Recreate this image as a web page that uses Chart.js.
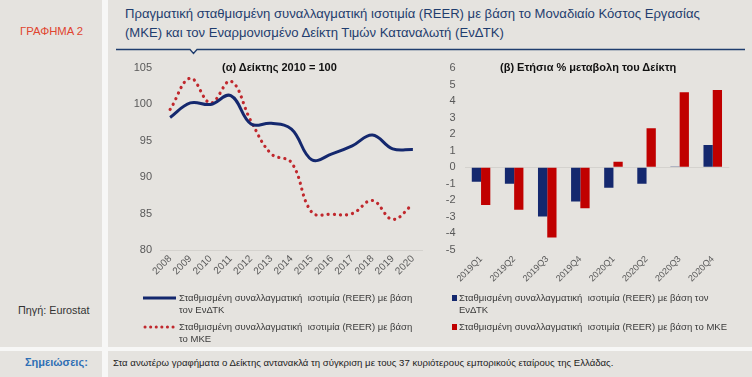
<!DOCTYPE html>
<html><head><meta charset="utf-8">
<script src="https://cdn.jsdelivr.net/npm/chart.js@4.4.1/dist/chart.umd.min.js"></script>
<style>
html,body{margin:0;padding:0;background:#f7f7f6;}
body{width:752px;height:377px;position:relative;overflow:hidden;font-family:"Liberation Sans",Arial,sans-serif;}
.p{position:absolute;background:#e5e3df;}
.t{position:absolute;white-space:nowrap;}
canvas{position:absolute;}
.lg{position:absolute;font-size:9.5px;line-height:12px;color:#3a3a3a;white-space:nowrap;}
</style></head><body>
<div class="p" style="left:0;top:0;width:102px;height:347px"></div>
<div class="p" style="left:108px;top:0;width:644px;height:347px"></div>
<div class="p" style="left:0;top:351px;width:102px;height:26px"></div>
<div class="p" style="left:108px;top:351px;width:644px;height:26px"></div>

<div class="t" style="left:20px;top:25px;font-size:11.3px;color:#e0452f">ΓΡΑΦΗΜΑ 2</div>
<div class="t" style="left:125px;top:4px;font-size:13.1px;line-height:19px;color:#1f3d6e">Πραγματική σταθμισμένη συναλλαγματική ισοτιμία (REER) με βάση το Μοναδιαίο Κόστος Εργασίας<br>(ΜΚΕ) και τον Εναρμονισμένο Δείκτη Τιμών Καταναλωτή (ΕνΔΤΚ)</div>
<svg style="position:absolute;left:0;top:0" width="752" height="60"><polyline points="116,49.5 190,49.5 193.5,53.5 197,49.5 745,49.5" fill="none" stroke="#1f3d6e" stroke-width="1.3"/></svg>

<div class="t" style="left:18px;top:304px;font-size:10.8px;color:#333">Πηγή: Eurostat</div>
<div class="t" style="left:25px;top:356px;font-size:11px;font-weight:bold;color:#2f6fb5">Σημειώσεις:</div>
<div class="t" style="left:113px;top:357px;font-size:9.6px;color:#222">Στα ανωτέρω γραφήματα ο Δείκτης αντανακλά τη σύγκριση με τους 37 κυριότερους εμπορικούς εταίρους της Ελλάδας.</div>

<canvas id="c1" width="330" height="240" style="left:110px;top:50px;width:330px;height:240px"></canvas>
<canvas id="c2" width="312" height="240" style="left:440px;top:50px;width:312px;height:240px"></canvas>

<div class="t" style="left:222px;top:61px;font-size:11px;font-weight:bold;color:#111">(α) Δείκτης 2010 = 100</div>
<div class="t" style="left:500px;top:61px;font-size:11px;font-weight:bold;color:#111">(β) Ετήσια % μεταβολη του Δείκτη</div>

<svg style="position:absolute;left:0;top:280px" width="752" height="70">
<line x1="143" y1="18" x2="176" y2="18" stroke="#14286e" stroke-width="3"/>
<line x1="145" y1="47" x2="176" y2="47" stroke="#c0282d" stroke-width="3" stroke-linecap="round" stroke-dasharray="0.1 5.5"/>
<rect x="452" y="15" width="5" height="6" fill="#14286e"/>
<rect x="452" y="44" width="5" height="6" fill="#c00000"/>
</svg>
<div class="lg" style="left:179px;top:292px">Σταθμισμένη συναλλαγματική&nbsp; ισοτιμία (REER) με βάση<br>τον ΕνΔΤΚ</div>
<div class="lg" style="left:179px;top:321px">Σταθμισμένη συναλλαγματική&nbsp; ισοτιμία (REER) με βάση<br>το ΜΚΕ</div>
<div class="lg" style="left:459px;top:292px">Σταθμισμένη συναλλαγματική&nbsp; ισοτιμία (REER) με βάση τον<br>ΕνΔΤΚ</div>
<div class="lg" style="left:459px;top:321px">Σταθμισμένη συναλλαγματική&nbsp; ισοτιμία (REER) με βάση το ΜΚΕ</div>

<script>
const years = ['2008','2009','2010','2011','2012','2013','2014','2015','2016','2017','2018','2019','2020'];
const reerHicp = [98.2, 100.2, 100.0, 101.2, 97.3, 97.4, 96.6, 92.4, 93.2, 94.3, 95.8, 93.9, 93.8];
const reerUlc = [99.3, 103.6, 100.2, 103.2, 97.7, 93.2, 92.0, 85.2, 84.9, 85.0, 86.8, 84.2, 86.3];
const quarters = ['2019Q1','2019Q2','2019Q3','2019Q4','2020Q1','2020Q2','2020Q3','2020Q4'];
const chgHicp = [-0.87, -1.0, -2.98, -2.08, -1.24, -1.0, 0.05, 1.35];
const chgUlc = [-2.28, -2.58, -4.25, -2.48, 0.34, 2.36, 4.55, 4.68];

const tickFont = {family:'"Liberation Sans", Arial, sans-serif', size:11};
const gray = '#595959';

new Chart(document.getElementById('c1'), {
  type:'line',
  data:{labels:years, datasets:[
    {data:reerHicp, borderColor:'#14286e', borderWidth:3, tension:0.4, pointRadius:0, fill:false},
    {data:reerUlc, borderColor:'#c0282d', borderWidth:3.2, tension:0.4, pointRadius:0, fill:false, borderCapStyle:'round', borderDash:[0.1,6]}
  ]},
  options:{
    responsive:false, animation:false, devicePixelRatio:1,
    layout:{padding:{left:0,right:17,top:18,bottom:0}},
    plugins:{legend:{display:false}, tooltip:{enabled:false}},
    scales:{
      x:{offset:true, grid:{display:false, drawTicks:false}, border:{display:false},
         ticks:{color:gray, font:{family:tickFont.family,size:10}, minRotation:45, maxRotation:45, padding:3, autoSkip:false},
         afterFit:s=>{s.height=40;}},
      y:{min:80, max:105, border:{display:false},
         grid:{drawTicks:false, color:c=>c.tick && c.tick.value===80 ? '#d4d2ce':'rgba(0,0,0,0)', lineWidth:1},
         ticks:{stepSize:5, color:gray, font:tickFont, padding:8},
         afterFit:s=>{s.width=50;}}
    }
  }
});

new Chart(document.getElementById('c2'), {
  type:'bar',
  data:{labels:quarters, datasets:[
    {data:chgHicp, backgroundColor:'#14286e', categoryPercentage:0.56, barPercentage:1.0},
    {data:chgUlc, backgroundColor:'#c00000', categoryPercentage:0.56, barPercentage:1.0}
  ]},
  options:{
    responsive:false, animation:false, devicePixelRatio:1,
    layout:{padding:{left:0,right:22.7,top:18.3,bottom:0}},
    plugins:{legend:{display:false}, tooltip:{enabled:false}},
    scales:{
      x:{grid:{display:false, drawTicks:false}, border:{display:false},
         ticks:{color:gray, font:{family:tickFont.family,size:9}, minRotation:45, maxRotation:45, padding:4, autoSkip:false},
         afterFit:s=>{s.height=40.2;}},
      y:{min:-5, max:6, border:{display:false},
         grid:{drawTicks:false, color:c=>c.tick && c.tick.value===0 ? '#d4d2ce':'rgba(0,0,0,0)', lineWidth:1},
         ticks:{stepSize:1, color:gray, font:tickFont, padding:9},
         afterFit:s=>{s.width=24.5;}}
    }
  }
});
</script>
</body></html>
